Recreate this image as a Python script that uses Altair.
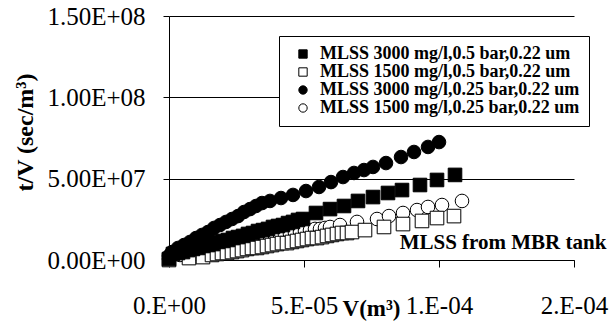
import json
import altair as alt
import pandas as pd

SERIES = [
    "MLSS 3000 mg/l,0.5 bar,0.22 um",
    "MLSS 1500 mg/l,0.5 bar,0.22 um",
    "MLSS 3000 mg/l,0.25 bar,0.22 um",
    "MLSS 1500 mg/l,0.25 bar,0.22 um",
]
SHAPES = ["square", "square", "circle", "circle"]
FILLS = ["black", "white", "black", "white"]
STROKES = ["black", "black", "black", "black"]
DRAW_ORDER = [3, 1, 0, 2]  # open circles underneath, then open squares, then filled marks

# V in units of 1e-5 m3, t/V in units of 1e6 s/m3
v_a = [0, 0.148, 0.333, 0.519, 0.704, 0.889, 1.074, 1.259, 1.444, 1.630, 1.815, 2.0, 2.185,
       2.370, 2.556, 2.741, 2.926, 3.111, 3.296, 3.481, 3.667, 3.852, 4.037, 4.222, 4.407,
       4.593, 4.778, 4.963, 5.444, 5.963, 6.481, 7.0, 7.556, 8.111, 8.630, 9.296, 9.926, 10.593]
tv_a = [0.6, 3.7, 4.3, 4.9, 6.1, 6.8, 7.4, 8.6, 9.2, 9.8, 11.1, 11.7, 12.3, 13.5, 14.1, 14.8,
        16.0, 16.6, 17.8, 18.4, 19.1, 20.3, 20.9, 21.5, 22.7, 23.4, 24.6, 25.2, 28.9, 31.3,
        33.2, 36.3, 38.7, 41.2, 43.0, 46.1, 49.2, 52.3]

v_b = [0, 0.741, 1.259, 1.593, 1.778, 1.963, 2.148, 2.333, 2.519, 2.704, 2.889, 3.074, 3.259,
       3.444, 3.630, 3.815, 4.0, 4.185, 4.370, 4.556, 4.741, 4.926, 5.111, 5.296, 5.481,
       5.667, 5.852, 6.037, 6.222, 6.407, 6.593, 6.778, 7.259, 7.963, 8.667, 9.370, 9.926, 10.556]
tv_b = [0, 1.2, 1.8, 3.1, 3.7, 4.3, 4.3, 4.9, 5.5, 6.1, 6.8, 7.4, 7.4, 8.0, 8.6, 9.2, 9.8,
        10.4, 10.4, 11.1, 11.7, 12.3, 12.9, 13.5, 13.5, 14.1, 14.8, 15.4, 16.0, 16.6, 16.6,
        17.2, 18.4, 20.3, 22.1, 24.0, 25.8, 27.0]

v_c = [0, 0.111, 0.333, 0.556, 0.778, 1.0, 1.222, 1.444, 1.667, 1.889, 2.111, 2.333, 2.556,
       2.778, 3.0, 3.222, 3.444, 3.741, 4.148, 4.593, 5.074, 5.556, 6.0, 6.444, 6.852, 7.222,
       7.556, 8.037, 8.593, 9.074, 9.593, 10.0]
tv_c = [2.5, 4.9, 7.4, 9.2, 11.1, 13.5, 15.4, 17.2, 19.7, 21.5, 23.4, 25.2, 27.0, 29.5, 31.3,
        33.2, 35.0, 36.3, 38.1, 40.0, 42.4, 44.9, 47.9, 51.0, 53.5, 55.3, 57.2, 59.6, 63.3,
        66.4, 69.5, 72.5]

v_d = [0, 0.407, 0.704, 0.963, 1.148, 1.333, 1.519, 1.704, 1.889, 2.074, 2.259, 2.444, 2.630,
       2.815, 3.0, 3.185, 3.370, 3.556, 3.741, 3.926, 4.111, 4.296, 4.481, 4.667, 4.852,
       5.037, 5.222, 5.407, 5.593, 5.778, 5.963, 6.333, 6.963, 7.704, 8.148, 8.667, 9.185,
       9.593, 10.111, 10.852]
tv_d = [0.6, 3.1, 4.3, 5.5, 6.1, 6.8, 7.4, 8.0, 8.6, 9.2, 9.2, 9.8, 10.4, 11.1, 11.7, 12.3,
        12.9, 13.5, 14.1, 14.8, 15.4, 15.4, 16.0, 16.6, 17.2, 17.8, 18.4, 19.1, 19.1, 19.7,
        20.3, 21.5, 23.4, 25.2, 27.0, 28.9, 30.7, 32.6, 33.8, 36.3]

X_TICKS = [0, 5e-5, 1e-4, 1.5e-4]
X_LABELS = ["0.E+00", "5.E-05", "1.E-04", "2.E-04"]
Y_TICKS = [0, 5e7, 1e8, 1.5e8]
Y_LABELS = ["0.00E+00", "5.00E+07", "1.00E+08", "1.50E+08"]

ANN_TEXT = ["MLSS from MBR tank"]
ANN_V = [1.62e-4]
ANN_TV = [1.05e7]

V_UNIT = 1e-5
TV_UNIT = 1e6

all_v = [v_a, v_b, v_c, v_d]
all_tv = [tv_a, tv_b, tv_c, tv_d]
rows = []
for i in DRAW_ORDER:
    for v, t in zip(all_v[i], all_tv[i]):
        rows.append({"V": v * V_UNIT, "tV": t * TV_UNIT, "series": SERIES[i]})
df = pd.DataFrame(rows)

FONT = "'Liberation Serif', 'Times New Roman', Times, serif"

x_expr = json.dumps(X_LABELS) + "[round(datum.value/5e-5)]"
y_expr = json.dumps(Y_LABELS) + "[round(datum.value/5e7)]"

x_enc = alt.X(
    "V:Q",
    scale=alt.Scale(domain=[0, 1.5e-4], nice=False),
    axis=alt.Axis(
        values=X_TICKS, labelExpr=x_expr, grid=False, tickSize=7, labelPadding=26,
        labelFont=FONT, labelFontSize=25, labelColor="black", labelOverlap=False,
        labelFlush=False, labelBound=False, domainColor="black", tickColor="black",
        title="V(m³)", titleFont=FONT, titleFontSize=23, titleFontWeight="bold",
        titleColor="black", titleX=202, titleY=55, titleBaseline="alphabetic",
        titleAlign="center",
    ),
)
y_enc = alt.Y(
    "tV:Q",
    scale=alt.Scale(domain=[0, 1.5e8], nice=False),
    axis=alt.Axis(
        values=Y_TICKS, labelExpr=y_expr, grid=True, gridColor="black", gridWidth=1,
        gridOpacity=1, tickSize=6, labelPadding=18, labelFont=FONT, labelFontSize=25,
        labelColor="black", labelOverlap=False, domainColor="black", tickColor="black",
        title="t/V (sec/m³)", titleFont=FONT, titleFontSize=24, titleFontWeight="bold",
        titleColor="black", titleAngle=270, titleAlign="center", titleBaseline="middle",
        titleX=-144, titleY=116,
    ),
)

points = alt.Chart(df).mark_point(
    filled=True, strokeWidth=1, size=185, opacity=1
).encode(
    x=x_enc,
    y=y_enc,
    shape=alt.Shape("series:N", scale=alt.Scale(domain=SERIES, range=SHAPES),
                    legend=alt.Legend(title=None)),
    fill=alt.Fill("series:N", scale=alt.Scale(domain=SERIES, range=FILLS),
                  legend=alt.Legend(title=None)),
    stroke=alt.Stroke("series:N", scale=alt.Scale(domain=SERIES, range=STROKES),
                      legend=alt.Legend(title=None)),
)

ann = alt.Chart(pd.DataFrame({"V": ANN_V, "tV": ANN_TV, "label": ANN_TEXT})).mark_text(
    align="right", baseline="middle", font=FONT, fontWeight="bold", fontSize=21, color="black"
).encode(x="V:Q", y="tV:Q", text="label:N")

chart = alt.layer(points, ann).properties(
    width=405, height=244,
    autosize=alt.AutoSizeParams(type="none"),
    padding={"left": 169, "top": 16, "right": 37, "bottom": 70},
    background="white",
).configure_view(stroke=None).configure_legend(
    orient="none", legendX=110, legendY=20, strokeColor="black", fillColor="white",
    padding=9, labelFont=FONT, labelFontWeight="bold", labelFontSize=18, labelColor="black",
    symbolSize=70, symbolStrokeWidth=1, labelLimit=500,
    rowPadding=0, labelOffset=8, symbolOffset=6,
)

chart.save("out.html", embed_options={"renderer": "svg", "actions": False})
